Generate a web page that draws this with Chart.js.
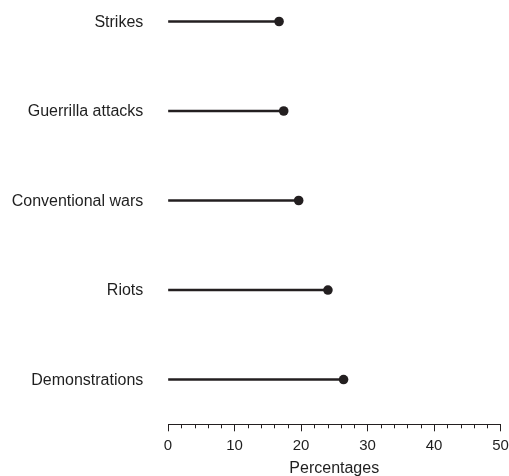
<!DOCTYPE html>
<html>
<head>
<meta charset="utf-8">
<title>Event types</title>
<script src="https://cdn.jsdelivr.net/npm/chart.js@4/dist/chart.umd.min.js"></script>
<style>
  html, body { margin: 0; padding: 0; background: #ffffff; }
  canvas { display: block; }
</style>
</head>
<body>
<canvas id="chart" width="509" height="476"></canvas>
<script>
// Event types, top to bottom
const categories = ['Strikes', 'Guerrilla attacks', 'Conventional wars', 'Riots', 'Demonstrations'];
// Share of events, in percent
const percentages = [16.7, 17.4, 19.65, 24.05, 26.4];
// Labelled x-axis values
const xTickLabels = [0, 10, 20, 30, 40, 50];

const ink = '#231f20';
const textColor = '#1f1f1f';
const fontFamily = 'Arial, "Liberation Sans", Helvetica, sans-serif';

const points = categories.map((c, i) => ({ x: percentages[i], y: i }));

// Short unlabelled ticks between the labelled ones
const minorTicks = {
  id: 'minorTicks',
  afterDraw(chart) {
    const scale = chart.scales.x;
    const ctx = chart.ctx;
    const y0 = chart.chartArea.bottom;
    ctx.save();
    ctx.strokeStyle = ink;
    ctx.lineWidth = 1;
    scale.ticks.forEach(t => {
      if (xTickLabels.includes(t.value)) return;
      const x = Math.round(scale.getPixelForValue(t.value)) + 0.5;
      ctx.beginPath();
      ctx.moveTo(x, y0);
      ctx.lineTo(x, y0 + 4);
      ctx.stroke();
    });
    ctx.restore();
  }
};

new Chart(document.getElementById('chart'), {
  type: 'bar',
  data: {
    datasets: [
      {
        type: 'scatter',
        data: points,
        pointRadius: 4.8,
        pointHoverRadius: 4.8,
        pointBackgroundColor: ink,
        pointBorderWidth: 0,
        showLine: false,
        order: 0
      },
      {
        type: 'bar',
        indexAxis: 'y',
        data: points,
        backgroundColor: ink,
        borderWidth: 0,
        barThickness: 2,
        order: 1
      }
    ]
  },
  options: {
    responsive: false,
    devicePixelRatio: 1,
    animation: false,
    layout: { padding: 0, autoPadding: false },
    plugins: {
      legend: { display: false },
      tooltip: { enabled: false }
    },
    scales: {
      x: {
        type: 'linear',
        position: 'bottom',
        offset: false,
        min: 0,
        max: 50,
        border: { display: true, color: ink, width: 1 },
        grid: {
          offset: false,
          drawOnChartArea: false,
          drawTicks: true,
          tickLength: 7,
          tickWidth: 1,
          tickColor: ctx => xTickLabels.includes(ctx.tick && ctx.tick.value) ? ink : 'rgba(0,0,0,0)'
        },
        ticks: {
          stepSize: 2,
          autoSkip: false,
          maxRotation: 0,
          padding: 6,
          color: textColor,
          font: { family: fontFamily, size: 15 },
          callback: v => xTickLabels.includes(v) ? String(v) : ''
        },
        title: {
          display: true,
          text: 'Percentages',
          color: textColor,
          padding: 0,
          font: { family: fontFamily, size: 16, lineHeight: 0.9 }
        },
        afterFit(scale) {
          scale.height = 51.7;
          scale.paddingLeft = 0;
          scale.paddingRight = 8.5;
        }
      },
      y: {
        type: 'linear',
        reverse: true,
        offset: false,
        min: -0.24,
        max: 4.5,
        border: { display: false },
        grid: { display: false, drawTicks: false, offset: false },
        ticks: {
          padding: 24.7,
          labelOffset: 1,
          color: textColor,
          font: { family: fontFamily, size: 16 },
          callback: v => categories[v] !== undefined ? categories[v] : ''
        },
        afterBuildTicks(scale) {
          scale.ticks = categories.map((c, i) => ({ value: i }));
        },
        afterFit(scale) {
          scale.width = 168;
          scale.paddingTop = 0;
          scale.paddingBottom = 0;
        }
      }
    }
  },
  plugins: [minorTicks]
});
</script>
</body>
</html>
